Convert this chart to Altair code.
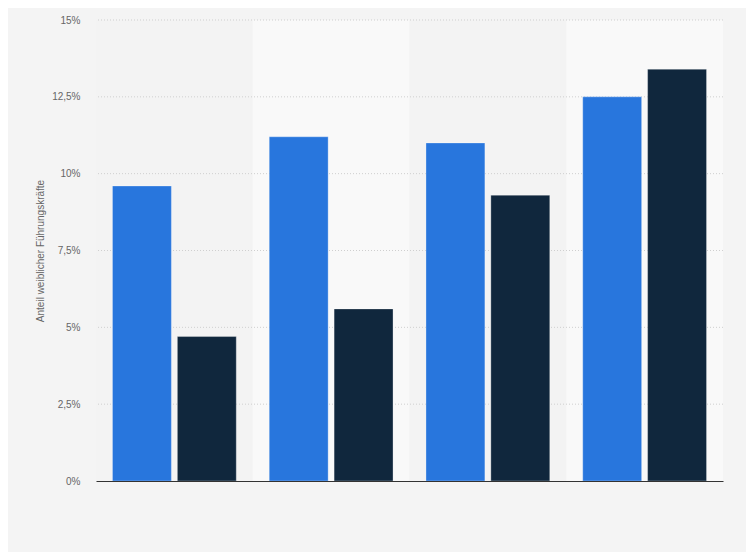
import altair as alt
import pandas as pd

groups = ["1", "2", "3", "4"]
series = ["Serie A", "Serie B"]
values_a = [9.6, 11.2, 11.0, 12.5]
values_b = [4.7, 5.6, 9.3, 13.4]
band_shades = ["#f3f3f3", "#f9f9f9", "#f3f3f3", "#f9f9f9"]
tick_values = [0, 2.5, 5, 7.5, 10, 12.5, 15]
grid_values = [2.5, 5, 7.5, 10, 12.5, 15]

rows = []
for g, a, b in zip(groups, values_a, values_b):
    rows.append({"group": g, "series": series[0], "value": a})
    rows.append({"group": g, "series": series[1], "value": b})
df = pd.DataFrame(rows)
bands = pd.DataFrame({"group": groups, "shade": band_shades})
grid = pd.DataFrame({"v": grid_values})

W, H = 627, 461
xscale = alt.Scale(domain=groups, paddingInner=0, paddingOuter=0)
yscale = alt.Scale(domain=[0, 15], nice=False)

x_axis = alt.Axis(labels=False, ticks=False, title=None, domain=True,
                  domainColor="#333333", domainWidth=1, grid=False, zindex=1)
y_axis = alt.Axis(values=tick_values, grid=False, ticks=False, domain=False,
                  labelExpr="replace(toString(datum.value), '.', ',') + '%'",
                  labelColor="#666666", labelFontSize=10, labelFont="Liberation Sans",
                  labelPadding=16,
                  title="Anteil weiblicher Führungskräfte", titleFontSize=10,
                  titleFontWeight="normal", titleColor="#666666",
                  titleFont="Liberation Sans",
                  titleX=-56, titleY=H / 2, titleBaseline="middle", titleAlign="center")

bg = alt.Chart(bands).mark_rect().encode(
    x=alt.X("group:N", scale=xscale, axis=x_axis),
    color=alt.Color("shade:N", scale=None, legend=None),
    y=alt.value(0),
    y2=alt.value(H),
)

rules = alt.Chart(grid).mark_rule(color="#cfcfcf", strokeDash=[1, 2], strokeWidth=1).encode(
    y=alt.Y("v:Q", scale=yscale, axis=y_axis)
)

bars = alt.Chart(df).mark_bar(stroke="white", strokeOpacity=0.3, strokeWidth=1).encode(
    x=alt.X("group:N", scale=xscale, axis=x_axis),
    xOffset=alt.XOffset("series:N", scale=alt.Scale(paddingInner=0.092, paddingOuter=0.254)),
    y=alt.Y("value:Q", scale=yscale, axis=y_axis),
    color=alt.Color("series:N", scale=alt.Scale(domain=series, range=["#2876dd", "#10273d"]),
                    legend=None),
)

chart = alt.layer(bg, rules, bars).properties(
    width=W, height=H,
    autosize=alt.AutoSizeParams(type="none"),
    padding={"left": 88, "top": 12, "right": 23, "bottom": 71},
    background="#f4f4f4",
).configure_view(stroke=None)

chart.save("out.html", embed_options={"renderer": "svg", "actions": False})
